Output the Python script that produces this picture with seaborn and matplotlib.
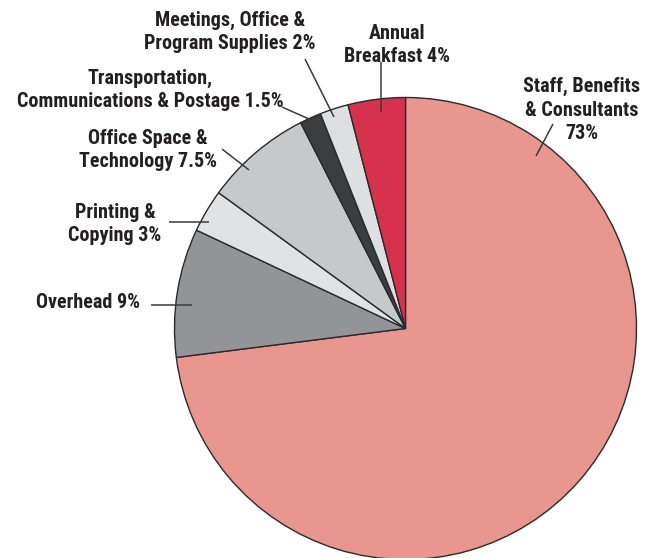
import matplotlib
matplotlib.use("Agg")
import matplotlib.pyplot as plt
import seaborn as sns

# data
categories = ["Staff, Benefits\n& Consultants\n73%", "Overhead 9%", "Printing &\nCopying 3%",
              "Office Space &\nTechnology 7.5%", "Transportation,\nCommunications & Postage 1.5%",
              "Meetings, Office &\nProgram Supplies 2%", "Annual\nBreakfast 4%"]
shares = [73, 9, 3, 7.5, 1.5, 2, 4]
colors = ["#E9968F", "#939497", "#E1E2E4", "#C7C8CA", "#3C3D3F", "#DEDFE1", "#D6324E"]

# label layout in pixels (text centre, leader start, leader end)
label_xy = [(582, 110), (88, 302), (115, 224), (148, 150), (150, 90), (230, 32), (397, 45)]
leader = [((553, 124), (536, 156)), ((151, 305), (192, 305)), ((169, 222), (209, 222)),
          ((222, 149), (249, 170)), ((282, 107), (309, 119)), ((305, 59), (334, 117)),
          ((381, 62), (381, 112))]

W, H = 654, 558
sns.set_theme(style="white")
plt.rcParams["font.family"] = ["Roboto Condensed", "Liberation Sans Narrow", "Roboto", "DejaVu Sans"]

fig = plt.figure(figsize=(W / 100, H / 100), dpi=100)
ax = fig.add_axes([0, 0, 1, 1])

cx, cy, r = 405.5, H - 328.5, 231
ax.pie(shares, colors=colors, startangle=90, counterclock=False, center=(cx, cy), radius=r,
       wedgeprops=dict(edgecolor="#2a2a2a", linewidth=1.0), frame=True)
ax.set_xlim(0, W)
ax.set_ylim(0, H)
ax.set_aspect("equal")
ax.axis("off")

for text, (tx, ty), ((x0, y0), (x1, y1)) in zip(categories, label_xy, leader):
    ax.text(tx, H - ty, text, ha="center", va="center", fontsize=14.5, fontweight="bold",
            color="#231f20", linespacing=1.3)
    ax.plot([x0, x1], [H - y0, H - y1], color="#3a3a3a", lw=1.1, solid_capstyle="butt")

fig.savefig("out.png", dpi=100)
